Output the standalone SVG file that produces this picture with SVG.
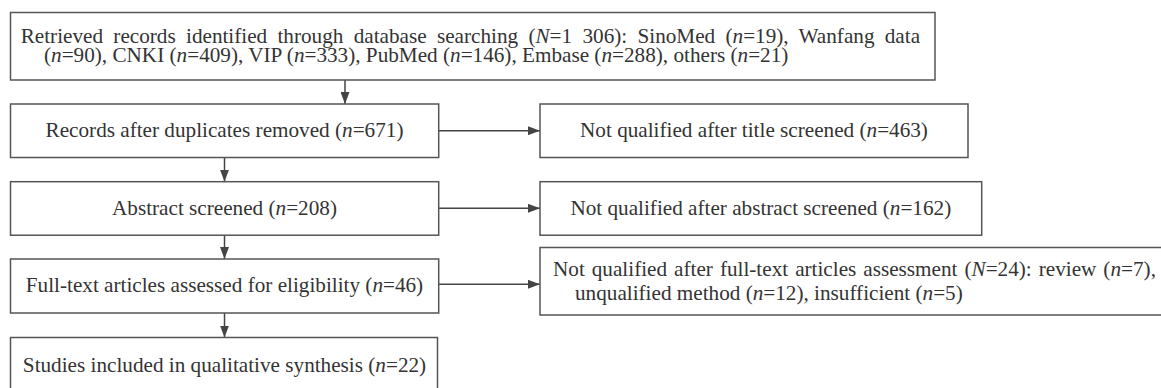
<svg xmlns="http://www.w3.org/2000/svg" width="1161" height="388" viewBox="0 0 1161 388">
  <style>
    .box { fill: #ffffff; stroke: #555555; stroke-width: 1.5; }
    .t { font-family: "Liberation Serif", "Times New Roman", serif; font-size: 21.2px; fill: #333333; }
    .c { text-anchor: middle; }
    .i { font-style: italic; }
    .conn { fill: none; stroke: #444444; stroke-width: 1.5; }
  </style>
  <defs>
    <marker id="arrow" markerUnits="userSpaceOnUse" markerWidth="12" markerHeight="9" refX="12" refY="4.5" orient="auto">
      <path d="M0,0 L12,4.5 L0,9 Z" fill="#444444"/>
    </marker>
  </defs>
  <rect width="1161" height="388" fill="#ffffff"/>

  <g id="connectors">
    <path class="conn" d="M345,80 V104" marker-end="url(#arrow)"/>
    <path class="conn" d="M224.5,157.5 V181.7" marker-end="url(#arrow)"/>
    <path class="conn" d="M224.5,235 V259" marker-end="url(#arrow)"/>
    <path class="conn" d="M224.5,313 V337.5" marker-end="url(#arrow)"/>
    <path class="conn" d="M438.7,130.7 H540" marker-end="url(#arrow)"/>
    <path class="conn" d="M438.7,208.3 H540" marker-end="url(#arrow)"/>
    <path class="conn" d="M438.7,284.3 H540" marker-end="url(#arrow)"/>
  </g>

  <g id="retrieved">
    <rect class="box" x="10.5" y="12.5" width="924.5" height="67.5"/>
    <text class="t" x="20.7" y="43.3" style="word-spacing:5px">Retrieved records identified through database searching (<tspan class="i">N</tspan>=1 306): SinoMed (<tspan class="i">n</tspan>=19), Wanfang data</text>
    <text class="t" x="44" y="61.7">(<tspan class="i">n</tspan>=90), CNKI (<tspan class="i">n</tspan>=409), VIP (<tspan class="i">n</tspan>=333), PubMed (<tspan class="i">n</tspan>=146), Embase (<tspan class="i">n</tspan>=288), others (<tspan class="i">n</tspan>=21)</text>
  </g>

  <g id="duplicates">
    <rect class="box" x="10.5" y="104" width="428.2" height="53.5"/>
    <text class="t c" x="224.5" y="136.7">Records after duplicates removed (<tspan class="i">n</tspan>=671)</text>
  </g>

  <g id="title-excluded">
    <rect class="box" x="540" y="104" width="428" height="53.5"/>
    <text class="t c" x="754" y="136.7">Not qualified after title screened (<tspan class="i">n</tspan>=463)</text>
  </g>

  <g id="abstract">
    <rect class="box" x="10.5" y="181.7" width="428.2" height="53.5"/>
    <text class="t c" x="224.5" y="214.5">Abstract screened (<tspan class="i">n</tspan>=208)</text>
  </g>

  <g id="abstract-excluded">
    <rect class="box" x="540" y="181.7" width="441.7" height="53.5"/>
    <text class="t c" x="760.8" y="214.5">Not qualified after abstract screened (<tspan class="i">n</tspan>=162)</text>
  </g>

  <g id="fulltext">
    <rect class="box" x="10.5" y="259" width="428.2" height="54"/>
    <text class="t c" x="224.5" y="292">Full-text articles assessed for eligibility (<tspan class="i">n</tspan>=46)</text>
  </g>

  <g id="fulltext-excluded">
    <rect class="box" x="540" y="247.5" width="640" height="67.5"/>
    <text class="t" x="553" y="276" style="word-spacing:1.7px">Not qualified after full-text articles assessment (<tspan class="i">N</tspan>=24): review (<tspan class="i">n</tspan>=7),</text>
    <text class="t" x="575" y="300">unqualified method (<tspan class="i">n</tspan>=12), insufficient (<tspan class="i">n</tspan>=5)</text>
  </g>

  <g id="included">
    <rect class="box" x="10.5" y="337.5" width="427" height="70"/>
    <text class="t c" x="224.5" y="371.5">Studies included in qualitative synthesis (<tspan class="i">n</tspan>=22)</text>
  </g>
</svg>
